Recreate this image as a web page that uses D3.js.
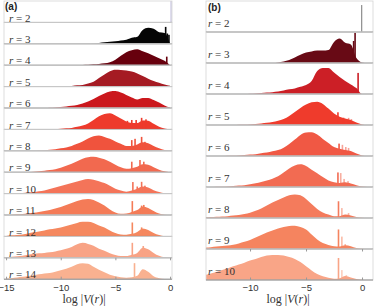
<!DOCTYPE html>
<html>
<head>
<meta charset="utf-8">
<script src="https://cdn.jsdelivr.net/npm/d3@7"></script>
<style>
  body { margin: 0; background: #fff; }
</style>
</head>
<body>
<script>
// tick labels
var ticksA = [-15, -10, -5, 0];
var ticksB = [-10, -5, 0];

// r values of the stacked rows
var rowsA = [2, 3, 4, 5, 6, 7, 8, 9, 10, 11, 12, 13, 14];
var rowsB = [2, 3, 4, 5, 6, 7, 8, 9, 10];

// log|V| grid of the histogram outlines (step 0.5)
var gridA = d3.range(-15, 0.25, 0.5);   // -15 .. 0
var gridB = d3.range(-14, 0.75, 0.5);   // -14 .. 0.5

// histogram heights, % of row height, panel (a)
var histA2  = [0,0,0,0,0,0,0,0,0,0,0,0,0,0,0,0,0,0,0,0,0,0,0,0,0,0,0,0,0,0,0];
var histA3  = [0,0,0,0,0,0,0,0,0,0,0,0,0,0,0,0,1,4,7,9,12,16,19,28,33,65,75,70,54,51,0];
var histA4  = [0,0,0,0,0,0,0,0,0,0,0,0,0,0,1,2,4,6,9,14,26,44,61,70,75,65,56,44,33,21,0];
var histA5  = [0,0,0,0,0,0,0,0,0,0,1,2,3,6,8,14,23,40,56,72,79,78,75,70,61,49,37,26,18,10,4];
var histA6  = [0,0,0,0,0,0,0,0,1,2,5,7,10,14,21,30,42,56,68,77,79,72,61,49,40,47,47,37,26,12,2];
var histA7  = [0,0,0,0,0,0,0,0,0,1,3,5,7,12,18,28,44,61,72,75,65,51,37,30,30,42,40,26,12,4,0];
var histA8  = [0,0,0,0,0,0,1,3,5,7,12,16,23,33,44,58,68,72,65,56,44,33,23,23,30,40,35,23,12,4,0];
var histA9  = [0,0,0,0,1,2,5,7,10,14,21,30,40,51,63,70,72,68,61,49,35,23,16,19,26,37,35,23,12,4,0];
var histA10 = [0,0,1,3,5,7,11,15,21,28,35,42,49,56,63,68,65,58,49,37,23,14,9,14,23,33,28,16,7,2,0];
var histA11 = [0,1,3,5,7,10,14,19,23,30,37,47,56,65,72,75,70,58,44,26,12,6,7,14,23,40,33,19,7,1,0];
var histA12 = [2,5,7,9,14,19,23,28,33,37,42,49,56,63,68,68,63,51,42,28,16,9,8,12,21,37,30,16,6,1,0];
var histA13 = [2,5,7,10,14,19,21,23,26,30,35,42,51,63,70,65,56,42,33,21,13,8,8,14,23,47,40,23,9,2,0];
var histA14 = [2,5,8,11,15,19,23,27,29,35,42,49,58,70,75,72,58,44,33,21,14,9,7,9,16,47,35,14,5,1,0];

// narrow peaks [log|V|, height %], panel (a)
var spikesA2  = [[0.12, 100]];
var spikesA3  = [[-0.4, 79], [-0.25, 48], [-0.1, 42]];
var spikesA4  = [[-0.3, 40]];
var spikesA5  = [];
var spikesA6  = [];
var spikesA7  = [[-3.9, 40], [-3.5, 44], [-3.1, 44], [-2.6, 54], [-2.2, 47]];
var spikesA8  = [[-3.5, 50], [-3.2, 56], [-2.6, 65], [-2.3, 42]];
var spikesA9  = [[-3.5, 49], [-2.75, 57], [-2.4, 49]];
var spikesA10 = [[-3.4, 54], [-3.0, 33], [-2.6, 55], [-2.3, 37]];
var spikesA11 = [[-3.45, 65], [-2.6, 44], [-2.4, 47]];
var spikesA12 = [[-3.45, 65], [-2.6, 42]];
var spikesA13 = [[-3.45, 70], [-2.45, 55]];
var spikesA14 = [[-3.25, 75]];

// histogram heights, % of row height, panel (b)
var histB2  = [0,0,0,0,0,0,0,0,0,0,0,0,0,0,0,0,0,0,0,0,0,0,0,0,0,0,0,0,0,0];
var histB3  = [0,0,0,0,0,0,0,0,0,0,0,0,0,2,5,10,18,27,34,37,40,40,42,68,79,65,60,16,2,0];
var histB4  = [0,0,0,0,0,0,0,0,1,2,3,5,6,8,11,15,18,23,29,42,74,84,84,69,55,42,31,19,0,0];
var histB5  = [0,0,0,0,0,0,1,1,2,3,5,7,10,14,19,29,42,55,66,73,75,68,53,37,27,21,16,8,2,0];
var histB6  = [0,0,0,0,1,1,2,3,5,6,9,11,15,19,27,39,53,68,76,77,69,55,42,29,23,19,16,8,2,0];
var histB7  = [0,0,1,1,2,3,5,6,9,12,16,21,27,35,47,60,69,73,68,56,44,32,21,15,13,15,11,6,2,0];
var histB8  = [2,3,4,5,6,8,10,13,17,23,31,40,50,58,66,73,76,73,61,45,29,18,11,6,6,11,8,3,1,0];
var histB9  = [5,6,8,10,11,14,18,23,29,37,45,53,60,66,71,74,75,71,63,47,31,19,13,9,8,12,9,3,1,0];
var histB10 = [16,21,26,32,37,44,50,56,63,68,74,79,81,81,79,74,68,58,44,31,19,12,7,4,6,13,8,3,1,0];

// narrow peaks, panel (b)
var spikesB2  = [[0, 87]];
var spikesB3  = [[-0.62, 97], [-0.75, 71]];
var spikesB4  = [[-0.35, 68]];
var spikesB5  = [[-2.15, 41], [-1.65, 24], [-1.2, 23], [-0.95, 19]];
var spikesB6  = [[-2.05, 40], [-1.75, 36], [-1.45, 29], [-1.2, 26]];
var spikesB7  = [[-2.15, 47], [-1.9, 45], [-1.6, 26], [-1.25, 19]];
var spikesB8  = [[-2.1, 54], [-1.8, 32], [-1.2, 16]];
var spikesB9  = [[-2.1, 63], [-1.8, 40], [-1.5, 16]];
var spikesB10 = [[-2.1, 71], [-1.8, 32], [-1.4, 16]];

var colorsA = ['#b8b3d8', '#050505', '#67000d', '#a51b23', '#cb181d', '#ee3a2c', '#f0533d',
               '#f2694f', '#f47459', '#f47b57', '#f5885f', '#f8a385', '#f9b190'];
var colorsB = ['#777777', '#680a15', '#cc1f26', '#ef3b2c', '#f05844', '#f26b52', '#f47b5c',
               '#f5845f', '#f9a587'];

var svg = d3.select('body').append('svg')
  .attr('width', 374)
  .attr('height', 307)
  .style('display', 'block');

var defs = svg.append('defs');

function drawPanel(cfg) {
  var x = d3.scaleLinear().domain(cfg.domain).range([cfg.left, cfg.right]);
  var g = svg.append('g');
  var nRows = cfg.rows.length;

  cfg.rows.forEach(function(r, i) {
    var top = cfg.top + i * cfg.rowH;
    var bottom = top + cfg.rowH;
    var y = d3.scaleLinear().domain([0, 100]).range([bottom, top]);
    var id = 'clip-' + cfg.name + r;

    defs.append('clipPath').attr('id', id)
      .append('rect')
      .attr('x', cfg.left).attr('y', top)
      .attr('width', cfg.right - cfg.left).attr('height', cfg.rowH);

    var rowG = g.append('g').attr('clip-path', 'url(#' + id + ')');

    var pts = cfg.grid.map(function(v, k) { return [v, cfg.hists[i][k]]; });
    var area = d3.area()
      .x(function(d) { return x(d[0]); })
      .y0(bottom)
      .y1(function(d) { return y(d[1]); })
      .curve(d3.curveMonotoneX);

    rowG.append('path')
      .datum(pts)
      .attr('d', area)
      .attr('fill', cfg.colors[i]);

    rowG.selectAll('.spike')
      .data(cfg.spikes[i])
      .enter().append('rect')
      .attr('class', 'spike')
      .attr('x', function(d) { return x(d[0]) - 0.8; })
      .attr('width', r === 2 ? 1 : 1.6)
      .attr('y', function(d) { return y(d[1]); })
      .attr('height', function(d) { return bottom - y(d[1]); })
      .attr('fill', cfg.colors[i])
      .attr('fill-opacity', function(d, j) { return (r >= cfg.faintFrom && j > 0) ? 0.55 : 1; });

    // light frame and darker baseline
    g.append('rect')
      .attr('x', cfg.left).attr('y', top)
      .attr('width', cfg.right - cfg.left).attr('height', cfg.rowH)
      .attr('fill', 'none')
      .attr('stroke', '#d4d4d4')
      .attr('stroke-width', 0.8);

    g.append('line')
      .attr('x1', cfg.left).attr('x2', cfg.right)
      .attr('y1', bottom).attr('y2', bottom)
      .attr('stroke', '#8c8c8c')
      .attr('stroke-width', 1);

    // row label
    var lab = g.append('text')
      .attr('x', cfg.left + cfg.labelDx)
      .attr('y', bottom - cfg.labelDy)
      .attr('font-family', 'Liberation Serif, DejaVu Serif, serif')
      .attr('font-size', 11)
      .attr('fill', '#333');
    lab.append('tspan').attr('font-style', 'italic').text('r');
    lab.append('tspan').text(' = ' + r);

    // ticks on the last row
    if (i === nRows - 1) {
      g.append('g')
        .attr('transform', 'translate(0,' + top + ')')
        .call(d3.axisBottom(x).tickValues(cfg.ticks).tickSizeInner(2.5).tickSizeOuter(0).tickFormat(''))
        .call(function(s) {
          s.select('.domain').remove();
          s.selectAll('line').attr('stroke', '#999');
        });

      g.append('g')
        .attr('transform', 'translate(0,' + bottom + ')')
        .call(d3.axisBottom(x).tickValues(cfg.ticks).tickSizeInner(-2.5).tickSizeOuter(0).tickPadding(4.6))
        .call(function(s) {
          s.select('.domain').remove();
          s.selectAll('line').attr('stroke', '#999');
          s.selectAll('text')
            .attr('font-family', 'Liberation Sans, Arial, sans-serif')
            .attr('font-size', 9.5)
            .attr('fill', '#333');
        });
    }
  });

  // panel tag
  g.append('text')
    .attr('x', cfg.tagX).attr('y', cfg.tagY)
    .attr('font-family', 'Liberation Sans, Arial, sans-serif')
    .attr('font-weight', 'bold')
    .attr('font-size', 10)
    .attr('fill', '#222')
    .text(cfg.tag);

  // x title
  var t = g.append('text')
    .attr('x', cfg.titleX).attr('y', 303)
    .attr('text-anchor', 'middle')
    .attr('font-family', 'Liberation Serif, DejaVu Serif, serif')
    .attr('font-size', 12)
    .attr('fill', '#333');
  t.append('tspan').text('log |');
  t.append('tspan').attr('font-style', 'italic').text('V');
  t.append('tspan').text('(');
  t.append('tspan').attr('font-style', 'italic').text('r');
  t.append('tspan').text(')|');
}

drawPanel({
  name: 'a',
  left: 4, right: 172, top: 1, rowH: 21.4,
  domain: [-15.19, 0.18],
  grid: gridA,
  rows: rowsA,
  hists: [histA2, histA3, histA4, histA5, histA6, histA7, histA8, histA9, histA10, histA11, histA12, histA13, histA14],
  spikes: [spikesA2, spikesA3, spikesA4, spikesA5, spikesA6, spikesA7, spikesA8, spikesA9, spikesA10, spikesA11, spikesA12, spikesA13, spikesA14],
  colors: colorsA,
  faintFrom: Infinity,
  labelDx: 5, labelDy: 0.8,
  ticks: ticksA,
  tag: '(a)', tagX: 5, tagY: 10,
  titleX: 84
});

drawPanel({
  name: 'b',
  left: 206, right: 373, top: 1, rowH: 31,
  domain: [-13.93, 0.98],
  grid: gridB,
  rows: rowsB,
  hists: [histB2, histB3, histB4, histB5, histB6, histB7, histB8, histB9, histB10],
  spikes: [spikesB2, spikesB3, spikesB4, spikesB5, spikesB6, spikesB7, spikesB8, spikesB9, spikesB10],
  colors: colorsB,
  faintFrom: 5,
  labelDx: 2, labelDy: 5.5,
  ticks: ticksB,
  tag: '(b)', tagX: 208, tagY: 10.5,
  titleX: 288
});
</script>
</body>
</html>
